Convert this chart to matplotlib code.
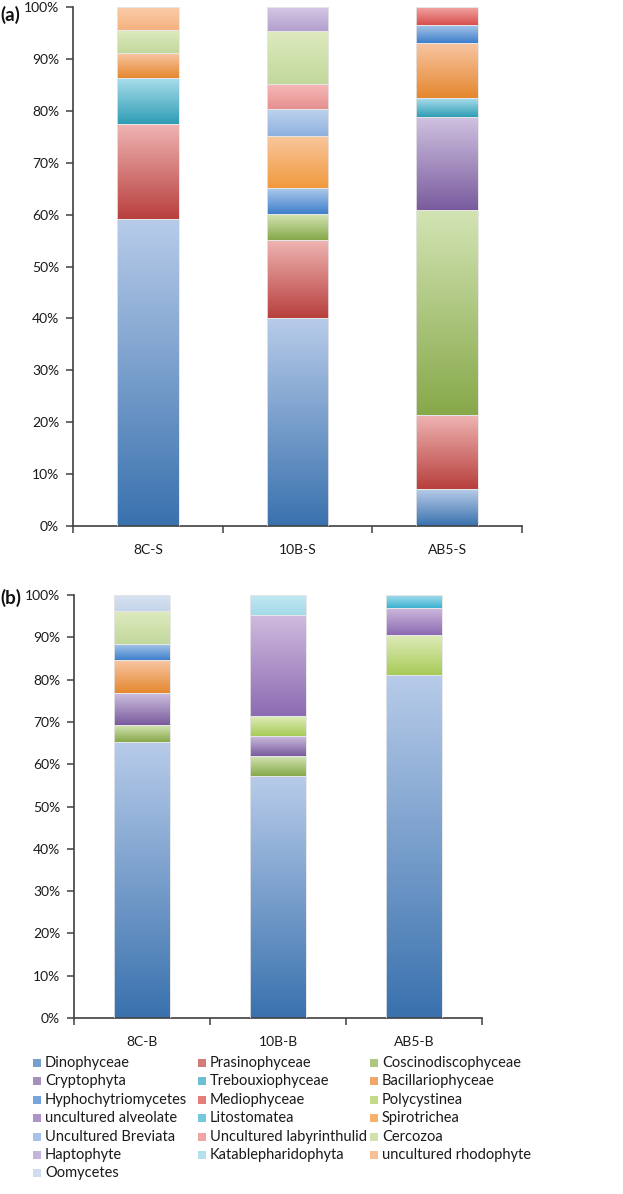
import numpy as np
import matplotlib
matplotlib.use("Agg")
import matplotlib.pyplot as plt
from matplotlib.colors import to_rgb
from matplotlib.patches import Rectangle

plt.rcParams['font.family'] = ['Lato', 'DejaVu Sans']

series = ["Dinophyceae", "Prasinophyceae", "Coscinodiscophyceae", "Cryptophyta",
          "Trebouxiophyceae", "Bacillariophyceae", "Hyphochytriomycetes", "Mediophyceae",
          "Polycystinea", "uncultured alveolate", "Litostomatea", "Spirotrichea",
          "Uncultured Breviata", "Uncultured labyrinthulid", "Cercozoa", "Haptophyte",
          "Katablepharidophyta", "uncultured rhodophyte", "Oomycetes"]

samples_a = ["8C-S", "10B-S", "AB5-S"]
samples_b = ["8C-B", "10B-B", "AB5-B"]

# percentages per series for (8C-S, 10B-S, AB5-S)
dino_a = [59.1, 40.0, 7.1]
prasino_a = [18.4, 15.2, 14.3]
coscino_a = [0, 4.9, 39.5]
crypto_a = [0, 0, 17.9]
treboux_a = [8.9, 0, 3.6]
bacillario_a = [4.8, 0, 10.6]
hypho_a = [0, 5.0, 3.5]
medio_a = [0, 0, 3.5]
polycyst_a = [0, 0, 0]
alveolate_a = [0, 0, 0]
litostom_a = [0, 0, 0]
spirotrich_a = [0, 10.1, 0]
breviata_a = [0, 5.1, 0]
labyrinth_a = [0, 4.9, 0]
cercozoa_a = [4.4, 10.1, 0]
hapto_a = [0, 4.7, 0]
katable_a = [0, 0, 0]
rhodo_a = [4.4, 0, 0]
oomyc_a = [0, 0, 0]

# percentages per series for (8C-B, 10B-B, AB5-B)
dino_b = [65.3, 57.2, 81.1]
prasino_b = [0, 0, 0]
coscino_b = [4.0, 4.7, 0]
crypto_b = [7.6, 4.8, 0]
treboux_b = [0, 0, 0]
bacillario_b = [7.7, 0, 0]
hypho_b = [3.8, 0, 0]
medio_b = [0, 0, 0]
polycyst_b = [0, 4.7, 9.4]
alveolate_b = [0, 23.9, 6.4]
litostom_b = [0, 0, 3.1]
spirotrich_b = [0, 0, 0]
breviata_b = [0, 0, 0]
labyrinth_b = [0, 0, 0]
cercozoa_b = [7.7, 0, 0]
hapto_b = [0, 0, 0]
katable_b = [0, 4.7, 0]
rhodo_b = [0, 0, 0]
oomyc_b = [3.9, 0, 0]

data_a = [dino_a, prasino_a, coscino_a, crypto_a, treboux_a, bacillario_a, hypho_a,
          medio_a, polycyst_a, alveolate_a, litostom_a, spirotrich_a, breviata_a,
          labyrinth_a, cercozoa_a, hapto_a, katable_a, rhodo_a, oomyc_a]
data_b = [dino_b, prasino_b, coscino_b, crypto_b, treboux_b, bacillario_b, hypho_b,
          medio_b, polycyst_b, alveolate_b, litostom_b, spirotrich_b, breviata_b,
          labyrinth_b, cercozoa_b, hapto_b, katable_b, rhodo_b, oomyc_b]

# (top, bottom) gradient colours
grad = [("#B7CBE9", "#3A72AE"), ("#EFB5B3", "#B8403E"), ("#D3E4B4", "#87A94A"),
        ("#CFC1E0", "#7A5C9E"), ("#ABDEEC", "#2F9DB5"), ("#F8C6A4", "#E5882F"),
        ("#ADCAEB", "#3F7FCB"), ("#F2A9A8", "#D9504E"), ("#DEEBB9", "#A8CB58"),
        ("#CFBBDE", "#8D6BB2"), ("#AAE0EE", "#3DB2D0"), ("#F9C79E", "#F19A3D"),
        ("#BDD2EE", "#8FB1DF"), ("#F6BAB9", "#E69090"), ("#DEEABE", "#C2D89C"),
        ("#D6C9E5", "#B3A0CD"), ("#C2E8F2", "#A3DAE8"), ("#FACCAA", "#F5B27F"),
        ("#DAE4F2", "#C4D4EA")]

W, H = 623, 1194
fig = plt.figure(figsize=(W / 100, H / 100), dpi=100)

def px_axes(left, right, top, bottom):
    return fig.add_axes([left / W, 1 - bottom / H, (right - left) / W, (bottom - top) / H])

def gradient_img(c_top, c_bot, n=64):
    t = np.linspace(0, 1, n)[:, None]
    a = np.array(to_rgb(c_top)); b = np.array(to_rgb(c_bot))
    return (a[None, :] * (1 - t) + b[None, :] * t)[:, None, :]

def draw_panel(ax, samples, data, label, lab_y):
    x = np.arange(len(samples))
    bottom = np.zeros(len(samples))
    for i, vals in enumerate(data):
        vals = np.array(vals, dtype=float)
        bars = ax.bar(x, vals, 0.41, bottom=bottom, color='none',
                      edgecolor='#E6E6E6', linewidth=0.6, zorder=3)
        for p, v in zip(bars.patches, vals):
            if v <= 0:
                continue
            x0, y0, w, h = p.get_x(), p.get_y(), p.get_width(), p.get_height()
            ax.imshow(gradient_img(*grad[i]), extent=[x0, x0 + w, y0, y0 + h],
                      aspect='auto', origin='upper', zorder=2, interpolation='bilinear')
        bottom += vals
    ax.set_xlim(-0.5, len(samples) - 0.5)
    ax.set_ylim(0, 100)
    ax.set_yticks(np.arange(0, 101, 10))
    ax.set_yticklabels([f"{v}%" for v in range(0, 101, 10)], fontsize=10, color='#1a1a1a')
    ax.set_xticks(x)
    ax.set_xticklabels(samples, fontsize=10, color='#1a1a1a')
    ax.set_xticks(np.arange(-0.5, len(samples), 1.0), minor=True)
    ax.tick_params(axis='x', which='major', length=0, pad=13)
    ax.tick_params(axis='x', which='minor', length=5, width=1.1, color='#404040', direction='out')
    ax.tick_params(axis='y', length=5, width=1.1, color='#404040', direction='out', pad=5)
    for s in ['top', 'right']:
        ax.spines[s].set_visible(False)
    for s in ['left', 'bottom']:
        ax.spines[s].set_color('#404040')
        ax.spines[s].set_linewidth(1.2)
    fig.text(0 / W, 1 - lab_y / H, label, fontsize=13.5, fontweight='bold',
             ha='left', va='center', color='#111111')

ax_a = px_axes(73, 522, 7, 526)
draw_panel(ax_a, samples_a, data_a, "(a)", 15)
ax_b = px_axes(74, 482, 595, 1018)
draw_panel(ax_b, samples_b, data_b, "(b)", 598)

# legend (row-major, 3 columns)
col_x = [33, 198, 370]
row_y0, dy = 1063, 18.4
for i, name in enumerate(series):
    r, c = divmod(i, 3)
    yc = row_y0 + r * dy
    xm = col_x[c]
    sq = 8
    fig.add_artist(Rectangle((xm / W, 1 - (yc + sq / 2) / H), sq / W, sq / H,
                             transform=fig.transFigure,
                             facecolor=tuple((np.array(to_rgb(grad[i][0])) + np.array(to_rgb(grad[i][1]))) / 2),
                             edgecolor='none'))
    fig.text((xm + 12) / W, 1 - yc / H, name, fontsize=10.5, ha='left', va='center',
             color='#1a1a1a')

fig.savefig("out.png", dpi=100)
